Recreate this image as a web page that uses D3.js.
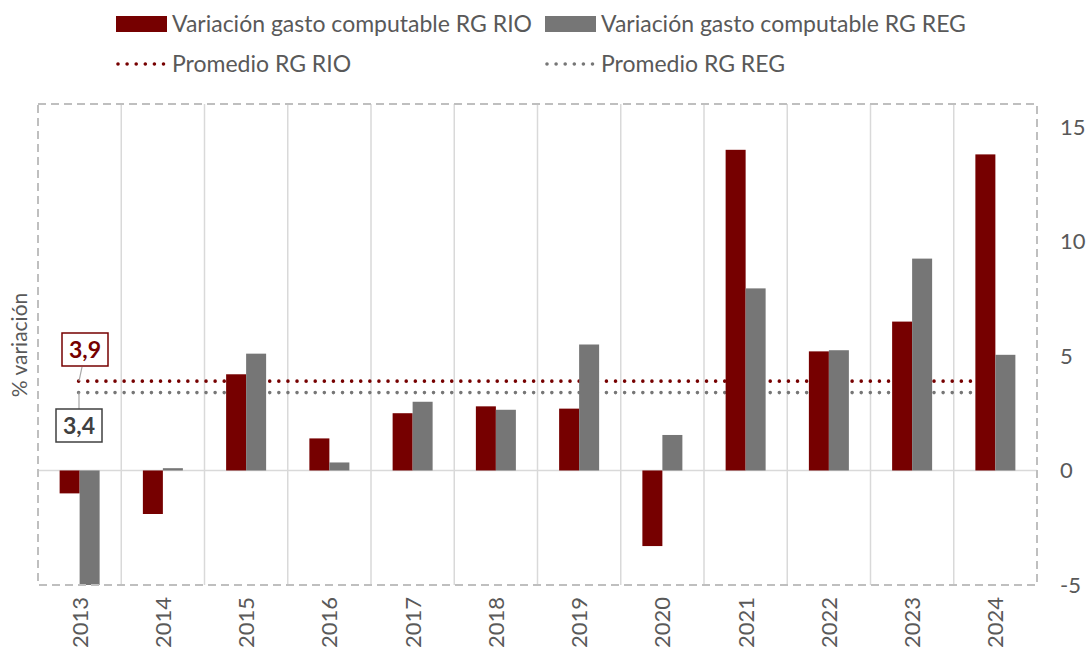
<!DOCTYPE html>
<html><head><meta charset="utf-8">
<script src="https://cdn.jsdelivr.net/npm/d3@7"></script>
<style>body{margin:0;background:#fff;} svg{display:block;font-family:Lato,"Open Sans",sans-serif;}</style>
</head><body><svg id="c" width="1089" height="650"></svg>
<script>
const years = ["2013","2014","2015","2016","2017","2018","2019","2020","2021","2022","2023","2024"];
const rio = [-1.0,-1.9,4.2,1.4,2.5,2.8,2.7,-3.3,14.0,5.2,6.5,13.8];
const reg = [-5.4,0.1,5.1,0.35,3.0,2.65,5.5,1.55,7.95,5.25,9.25,5.05];
const avgRio = 3.9, avgReg = 3.4;
const yTicks = [-5,0,5,10,15];
const seriesNames = ["Variación gasto computable RG RIO","Variación gasto computable RG REG"];
const avgNames = ["Promedio RG RIO","Promedio RG REG"];
const RED = "#760000", GRAY = "#767676", TXT = "#595959";

const svg = d3.select("#c");
const L = 38, R = 1037, T = 104, B = 585;
const x = d3.scaleBand().domain(years).range([L, R]).paddingInner(0).paddingOuter(0);
const y = d3.scaleLinear().domain([-5, 16]).range([B, T]);
const bw = 20;

svg.append("defs").append("clipPath").attr("id","clip").append("rect")
  .attr("x",L).attr("y",T).attr("width",R-L).attr("height",B-T);

svg.append("g").selectAll("line").data(years.slice(1)).join("line")
  .attr("x1",d=>x(d)).attr("x2",d=>x(d)).attr("y1",T).attr("y2",B)
  .attr("stroke","#d9d9d9").attr("stroke-width",1.5);
svg.append("line").attr("x1",L).attr("x2",R).attr("y1",y(0)).attr("y2",y(0))
  .attr("stroke","#d9d9d9").attr("stroke-width",1.5);

const xc = d => x(d) + x.bandwidth()/2;
[[avgRio,RED,18],[avgReg,GRAY,8]].forEach(([v,c,off])=>{
  svg.append("line").attr("x1",xc(years[0])-1).attr("x2",xc(years[years.length-1]) - off)
    .attr("y1",y(v)).attr("y2",y(v)).attr("stroke",c).attr("stroke-width",3.6)
    .attr("stroke-linecap","round").attr("stroke-dasharray","0,9.1");
});

const g = svg.append("g").attr("clip-path","url(#clip)");
g.selectAll("rect.rio").data(years).join("rect")
  .attr("x",d=>xc(d)-bw).attr("width",bw)
  .attr("y",(d,i)=>y(Math.max(0,rio[i]))).attr("height",(d,i)=>Math.abs(y(rio[i])-y(0)))
  .attr("fill",RED);
g.selectAll("rect.reg").data(years).join("rect")
  .attr("x",d=>xc(d)).attr("width",bw)
  .attr("y",(d,i)=>y(Math.max(0,reg[i]))).attr("height",(d,i)=>Math.abs(y(reg[i])-y(0)))
  .attr("fill",GRAY);

svg.append("rect").attr("x",L).attr("y",T).attr("width",R-L).attr("height",B-T)
  .attr("fill","none").attr("stroke","#bfbfbf").attr("stroke-width",2).attr("stroke-dasharray","8,5");

svg.append("g").selectAll("text").data(yTicks).join("text")
  .attr("x",1060).attr("y",d=>y(d)).attr("dy","0.35em")
  .attr("font-size",22).attr("fill",TXT).text(d=>d);

svg.append("g").selectAll("text").data(years).join("text")
  .attr("transform",d=>`translate(${xc(d)+8},597) rotate(-90)`)
  .attr("text-anchor","end").attr("font-size",22).attr("fill",TXT).text(d=>d);

svg.append("text").attr("transform","translate(27,345) rotate(-90)")
  .attr("text-anchor","middle").attr("font-size",21).attr("fill",TXT).text("% variación");

function label(cx, by, col, tcol, txt){
  svg.append("rect").attr("x",cx-23).attr("y",by).attr("width",46).attr("height",33)
    .attr("fill","#fff").attr("stroke",col).attr("stroke-width",1.5);
  svg.append("text").attr("x",cx).attr("y",by+17).attr("dy","0.35em").attr("text-anchor","middle")
    .attr("font-size",23).attr("font-weight","bold").attr("fill",tcol).text(txt);
}
svg.append("line").attr("x1",82).attr("y1",367).attr("x2",79).attr("y2",y(avgRio)).attr("stroke","#a6a6a6").attr("stroke-width",1.2);
svg.append("line").attr("x1",79).attr("y1",y(avgReg)).attr("x2",79).attr("y2",409).attr("stroke","#a6a6a6").attr("stroke-width",1.2);
label(85, 333, RED, RED, d3.format(".1f")(avgRio).replace(".",","));
label(79, 409, "#404040", "#404040", d3.format(".1f")(avgReg).replace(".",","));

const lg = svg.append("g").attr("font-size",23).attr("fill",TXT);
const lx = [116,545];
[RED,GRAY].forEach((c,i)=>{
  lg.append("rect").attr("x",lx[i]).attr("y",16).attr("width",51).attr("height",16).attr("fill",c);
  lg.append("text").attr("x",lx[i]+56).attr("y",24).attr("dy","0.35em").attr("fill",TXT).text(seriesNames[i]);
  lg.append("line").attr("x1",lx[i]+2).attr("x2",lx[i]+50).attr("y1",64).attr("y2",64)
    .attr("stroke",c).attr("stroke-width",3.6).attr("stroke-linecap","round").attr("stroke-dasharray","0,9.1");
  lg.append("text").attr("x",lx[i]+56).attr("y",64).attr("dy","0.35em").attr("fill",TXT).text(avgNames[i]);
});
</script></body></html>
